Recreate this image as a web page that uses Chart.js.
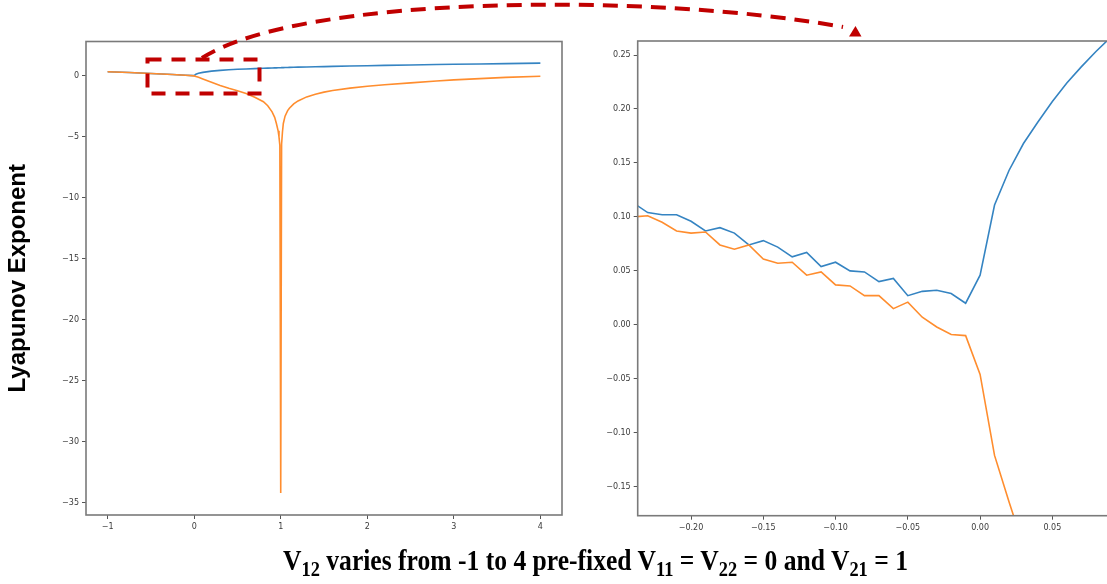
<!DOCTYPE html>
<html>
<head>
<meta charset="utf-8">
<script src="https://cdn.jsdelivr.net/npm/chart.js@4.4.1/dist/chart.umd.min.js"></script>
<style>
  html, body { margin: 0; padding: 0; background: #fff; }
  body { width: 1107px; height: 584px; overflow: hidden; position: relative; }
  canvas { position: absolute; }
  #cLeft { left: 0; top: 0; }
  #cRight { left: 590px; top: 0; }
  #overlay { left: 0; top: 0; pointer-events: none; }
  #xlabel {
    position: absolute; top: 544px; left: 0; white-space: nowrap;
    font-family: "Liberation Serif", "Times New Roman", serif; font-weight: bold;
    font-size: 29px; color: #000; transform-origin: 0 0;
  }
  #xlabel sub { font-size: 0.72em; vertical-align: -0.28em; line-height: 0; }
</style>
</head>
<body>
<canvas id="cLeft" width="580" height="540"></canvas>
<canvas id="cRight" width="518" height="540"></canvas>
<canvas id="overlay" width="1107" height="584"></canvas>
<div id="xlabel">V<sub>12</sub> varies from -1 to 4 pre-fixed V<sub>11</sub> = V<sub>22</sub> = 0 and V<sub>21</sub> = 1</div>
<script>
// ---------- DATA ----------
// Left panel: full range of V12
const leftX      = [-1.0, -0.75, -0.5, -0.25, -0.1, 0.0, 0.02, 0.05, 0.1, 0.2, 0.3, 0.4, 0.5, 0.6, 0.7, 0.8, 0.85, 0.9, 0.93, 0.95, 0.97, 0.98, 0.99, 1.0, 1.01, 1.02, 1.03, 1.05, 1.08, 1.1, 1.15, 1.2, 1.3, 1.4, 1.5, 1.6, 1.8, 2.0, 2.2, 2.5, 2.8, 3.0, 3.3, 3.6, 4.0];
const leftBlue   = [0.34, 0.28, 0.20, 0.11, 0.05, 0.02, 0.14, 0.21, 0.29, 0.39, 0.45, 0.50, 0.54, 0.57, 0.60, 0.63, 0.64, 0.65, 0.66, 0.66, 0.67, 0.67, 0.67, 0.67, 0.68, 0.68, 0.68, 0.69, 0.69, 0.70, 0.71, 0.72, 0.73, 0.75, 0.76, 0.78, 0.81, 0.83, 0.86, 0.89, 0.93, 0.95, 0.98, 1.01, 1.05];
const leftOrange = [0.34, 0.28, 0.20, 0.11, 0.05, 0.0, -0.05, -0.12, -0.25, -0.52, -0.78, -1.02, -1.22, -1.45, -1.75, -2.12, -2.45, -2.95, -3.4, -3.9, -4.5, -5.0, -5.7, -34.2, -5.6, -4.6, -3.9, -3.3, -2.85, -2.65, -2.3, -2.05, -1.72, -1.5, -1.33, -1.2, -1.0, -0.85, -0.73, -0.57, -0.42, -0.33, -0.22, -0.12, -0.03];

// Right panel: zoom around V12 = 0
const rightX      = [-0.24, -0.23, -0.22, -0.21, -0.20, -0.19, -0.18, -0.17, -0.16, -0.15, -0.14, -0.13, -0.12, -0.11, -0.10, -0.09, -0.08, -0.07, -0.06, -0.05, -0.04, -0.03, -0.02, -0.01, 0.00, 0.01, 0.02, 0.03, 0.04, 0.05, 0.06, 0.07, 0.08, 0.09];
const rightBlue   = [0.113, 0.104, 0.102, 0.102, 0.096, 0.087, 0.090, 0.085, 0.074, 0.078, 0.072, 0.063, 0.067, 0.054, 0.058, 0.050, 0.049, 0.040, 0.043, 0.027, 0.031, 0.032, 0.029, 0.020, 0.046, 0.111, 0.143, 0.168, 0.188, 0.207, 0.224, 0.239, 0.253, 0.266];
const rightOrange = [0.100, 0.101, 0.095, 0.087, 0.085, 0.086, 0.074, 0.070, 0.074, 0.061, 0.057, 0.058, 0.046, 0.049, 0.037, 0.036, 0.027, 0.027, 0.015, 0.021, 0.007, -0.002, -0.009, -0.010, -0.046, -0.121, -0.164, -0.205];

// Tick labels
const leftXTicks  = [-1, 0, 1, 2, 3, 4];
const leftYTicks  = [0, -5, -10, -15, -20, -25, -30, -35];
const rightXTicks = [-0.20, -0.15, -0.10, -0.05, 0.00, 0.05];
const rightYTicks = [0.25, 0.20, 0.15, 0.10, 0.05, 0.00, -0.05, -0.10, -0.15];

const yTitle = 'Lyapunov Exponent';

// ---------- helpers ----------
const BLUE = '#3584c2', ORANGE = '#ff8d2e';
const FRAME = '#7a7a7a', TICKC = '#555555', LABELC = '#3a3a3a';
const pts = (xs, ys) => ys.map((y, i) => ({ x: xs[i], y }));
const fmtInt = v => (v < 0 ? '\u2212' + Math.abs(v) : String(v));
const fmt2 = v => { const s = Math.abs(v).toFixed(2); return (v < -1e-9 ? '\u2212' : '') + s; };

const framePlugin = {
  id: 'frame',
  afterDraw(chart) {
    const { ctx, chartArea: a } = chart;
    ctx.save();
    ctx.strokeStyle = FRAME;
    ctx.lineWidth = 1.6;
    ctx.strokeRect(a.left, a.top, a.right - a.left, a.bottom - a.top);
    ctx.restore();
  }
};

function makeAxis(ticksArr, fmt, fixedSize, horizontal, min, max, extra) {
  return Object.assign({
    type: 'linear',
    min, max,
    grid: { display: true, drawOnChartArea: false, drawTicks: true, tickLength: 4, tickColor: TICKC, lineWidth: 1 },
    border: { display: false },
    ticks: {
      color: LABELC, padding: 3, autoSkip: false, maxRotation: 0,
      font: { family: 'DejaVu Sans', size: 8 },
      callback: v => fmt(v)
    },
    afterBuildTicks: ax => { ax.ticks = ticksArr.map(v => ({ value: v })); },
    afterFit: ax => {
      if (horizontal) { ax.height = fixedSize; } else { ax.width = fixedSize; }
      ax.paddingLeft = 0; ax.paddingRight = 0; ax.paddingTop = 0; ax.paddingBottom = 0;
    }
  }, extra || {});
}

function makeChart(id, blue, orange, xAxis, yAxis, padding) {
  return new Chart(document.getElementById(id), {
    type: 'line',
    data: {
      datasets: [
        { data: blue, borderColor: BLUE, borderWidth: 1.6, pointRadius: 0, tension: 0, order: 2 },
        { data: orange, borderColor: ORANGE, borderWidth: 1.6, pointRadius: 0, tension: 0, order: 1 }
      ]
    },
    options: {
      responsive: false, animation: false,
      layout: { padding },
      plugins: { legend: { display: false }, tooltip: { enabled: false } },
      scales: { x: xAxis, y: yAxis }
    },
    plugins: [framePlugin]
  });
}

// Left chart: area x 86..562, y 41.5..515
makeChart('cLeft',
  pts(leftX, leftBlue), pts(leftX, leftOrange),
  makeAxis(leftXTicks, fmtInt, 25, true, -1.25, 4.25),
  makeAxis(leftYTicks, fmtInt, 86, false, -36.0, 2.82, {
    title: { display: true, text: yTitle, color: '#000', padding: { top: 4, bottom: 0 },
             font: { family: 'Liberation Sans', size: 24, weight: 'bold' } }
  }),
  { top: 41.5, right: 18, bottom: 0, left: 0 }
);

// Right chart: area x 637.7..1108, y 41..515.7
makeChart('cRight',
  pts(rightX, rightBlue), pts(rightX, rightOrange),
  makeAxis(rightXTicks, fmt2, 24.3, true, -0.2369, 0.0885),
  makeAxis(rightYTicks, fmt2, 47.7, false, -0.1769, 0.263),
  { top: 41, right: 0, bottom: 0, left: 0 }
);

// ---------- annotation overlay: dashed box and curved arrow ----------
(function () {
  const ctx = document.getElementById('overlay').getContext('2d');
  const RED = '#c00000';
  ctx.strokeStyle = RED;
  ctx.lineWidth = 4;
  ctx.setLineDash([14, 10]);
  ctx.beginPath();
  ctx.moveTo(147.5, 59.5); ctx.lineTo(259.5, 59.5); ctx.lineTo(259.5, 93.5);
  ctx.lineTo(147.5, 93.5); ctx.closePath();
  ctx.stroke();

  ctx.setLineDash([15, 9]);
  ctx.beginPath();
  ctx.moveTo(202, 58);
  ctx.bezierCurveTo(300, -5, 650, -8, 843, 27);
  ctx.stroke();

  ctx.setLineDash([]);
  ctx.fillStyle = RED;
  ctx.beginPath();
  ctx.moveTo(849, 36.5); ctx.lineTo(861.5, 36.5); ctx.lineTo(855.5, 26);
  ctx.closePath();
  ctx.fill();
})();

// ---------- bottom label: fit to reference width ----------
(function () {
  const el = document.getElementById('xlabel');
  const targetLeft = 283, targetWidth = 625;
  const w = el.getBoundingClientRect().width;
  const s = targetWidth / w;
  el.style.left = targetLeft + 'px';
  el.style.transform = 'scaleX(' + s + ')';
})();
</script>
</body>
</html>
